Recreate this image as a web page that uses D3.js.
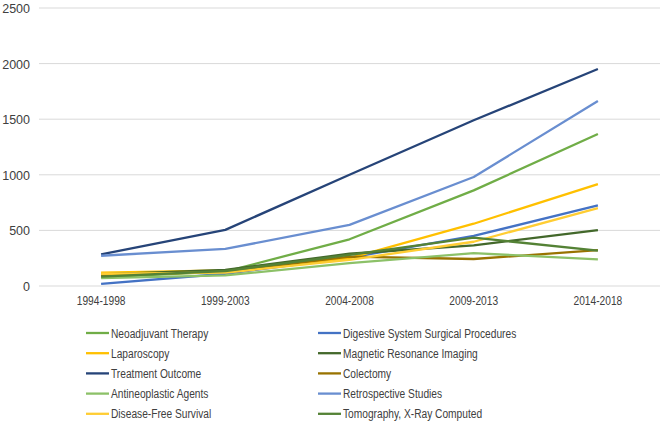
<!DOCTYPE html>
<html><head><meta charset="utf-8">
<script src="https://cdn.jsdelivr.net/npm/d3@7"></script>
<style>body{margin:0;background:#fff}svg{display:block}text{font-family:"Liberation Sans",Arial,sans-serif;fill:#404040}</style>
</head><body><svg id="c" width="665" height="425"></svg>
<script>
const categories = ["1994-1998","1999-2003","2004-2008","2009-2013","2014-2018"];
const seriesNames = ["Neoadjuvant Therapy","Digestive System Surgical Procedures","Laparoscopy","Magnetic Resonance Imaging","Treatment Outcome","Colectomy","Antineoplastic Agents","Retrospective Studies","Disease-Free Survival","Tomography, X-Ray Computed"];
const neoadjuvant   = [80, 130, 420, 860, 1367];
const digestive     = [20, 110, 255, 450, 725];
const laparoscopy   = [120, 140, 250, 560, 917];
const mri           = [105, 145, 290, 365, 503];
const treatment     = [285, 505, 1000, 1490, 1951];
const colectomy     = [95, 130, 265, 243, 322];
const antineoplastic= [70, 95, 205, 295, 240];
const retrospective = [272, 333, 550, 980, 1664];
const diseaseFree   = [110, 120, 235, 398, 700];
const tomography    = [85, 135, 280, 435, 318];
const yTicks = [0, 500, 1000, 1500, 2000, 2500];
const colors = ["#70AD47","#4472C4","#FFC000","#43682B","#264478","#997300","#8CC168","#698ED0","#FFCD33","#548235"];
const values = [neoadjuvant,digestive,laparoscopy,mri,treatment,colectomy,antineoplastic,retrospective,diseaseFree,tomography];

const svg = d3.select("#c");
const x = d3.scaleBand().domain(categories).range([39, 660]);
const y = d3.scaleLinear().domain([0, 2500]).range([286, 8]);

const grid = svg.append("g");
grid.selectAll("line").data(yTicks).join("line")
  .attr("x1", 39).attr("x2", 660)
  .attr("y1", d => y(d)).attr("y2", d => y(d))
  .attr("stroke", "#d9d9d9").attr("stroke-width", 1);

const yAxis = d3.axisLeft(y).tickValues(yTicks).tickSize(0).tickPadding(9).tickFormat(d3.format("d"));
const gy = svg.append("g").attr("transform", "translate(39,0)").call(yAxis);
gy.select(".domain").remove();
gy.selectAll("text").style("font-size", "12.5px").attr("fill", "#404040").attr("dy", "0.36em");

const xAxis = d3.axisBottom(x).tickSize(0).tickPadding(10);
const gx = svg.append("g").attr("transform", "translate(0,286)").call(xAxis);
gx.select(".domain").remove();
gx.selectAll("text").style("font-size", "12.5px").attr("fill", "#404040");

const line = d3.line().x((d, i) => x(categories[i]) + x.bandwidth() / 2).y(d => y(d));
svg.append("g").selectAll("path").data(values).join("path")
  .attr("d", d => line(d)).attr("fill", "none")
  .attr("stroke", (d, i) => colors[i]).attr("stroke-width", 2.3)
  .attr("stroke-linejoin", "round");

const leg = svg.append("g");
seriesNames.forEach((n, i) => {
  const col = i % 2, row = Math.floor(i / 2);
  const lx = col === 0 ? 86 : 318, ly = 333 + row * 20.2;
  leg.append("line").attr("x1", lx).attr("x2", lx + 23).attr("y1", ly).attr("y2", ly)
    .attr("stroke", colors[i]).attr("stroke-width", 2.3);
  leg.append("text").attr("x", lx + 25).attr("y", ly).attr("dy", "0.36em")
    .style("font-size", "12.5px").text(n);
});
// compress x labels and legend text horizontally to match reference
svg.selectAll("g text").each(function () {
  if (this.parentNode.parentNode === gy.node()) return;
  const len = this.getComputedTextLength();
  d3.select(this).attr("textLength", len * 0.815).attr("lengthAdjust", "spacingAndGlyphs");
});
</script></body></html>
